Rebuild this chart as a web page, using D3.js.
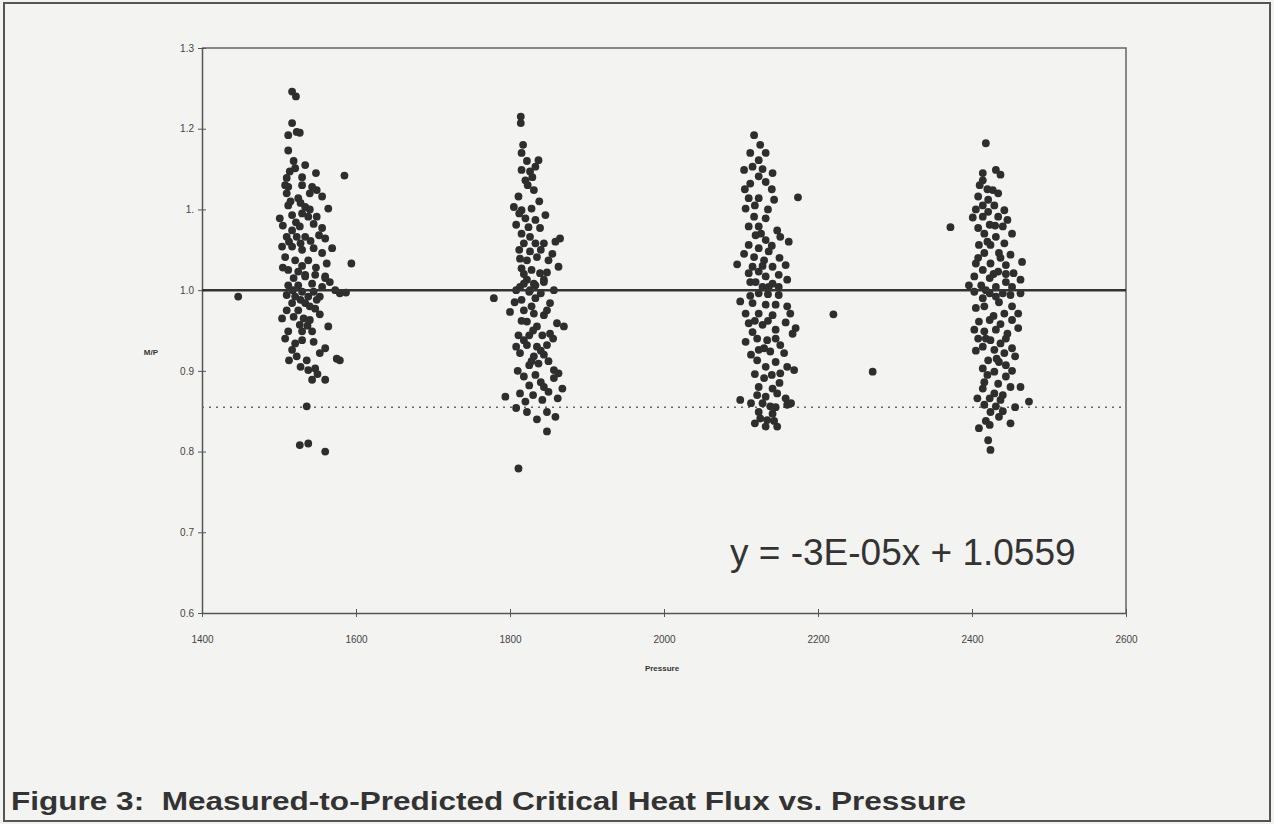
<!DOCTYPE html>
<html>
<head>
<meta charset="utf-8">
<script src="https://cdn.jsdelivr.net/npm/d3@7"></script>
<style>
  html, body { margin: 0; padding: 0; background: #f3f3f1; }
  svg { display: block; }
</style>
</head>
<body>
<div id="chart"></div>
<script>
// ********** data **********
// each point: [pressure, measured/predicted]
const run1500 = [
  [1517,1.246],[1522,1.240],[1517,1.207],[1523,1.196],[1512,1.192],[1527,1.195],[1512,1.173],
  [1534,1.155],[1548,1.145],[1585,1.142],[1514,1.147],[1510,1.139],[1521,1.151],[1512,1.128],
  [1530,1.130],[1543,1.128],[1549,1.124],[1510,1.120],[1556,1.116],[1525,1.114],[1564,1.101],
  [1512,1.105],[1501,1.089],[1534,1.103],[1530,1.095],[1538,1.091],[1549,1.091],[1517,1.093],
  [1556,1.077],[1517,1.074],[1527,1.079],[1510,1.066],[1523,1.066],[1534,1.066],[1560,1.064],
  [1569,1.052],[1504,1.054],[1517,1.054],[1530,1.050],[1545,1.052],[1556,1.046],[1508,1.041],
  [1521,1.037],[1538,1.037],[1562,1.033],[1594,1.033],[1512,1.025],[1525,1.023],[1534,1.017],
  [1547,1.019],[1560,1.017],[1519,1.015],[1534,1.019],[1560,1.015],[1512,1.006],[1525,1.006],
  [1543,1.008],[1556,1.004],[1579,0.996],[1573,1.000],[1510,0.994],[1521,0.992],[1538,0.992],
  [1549,0.988],[1517,0.984],[1534,0.984],[1547,0.977],[1525,0.975],[1504,0.965],[1519,0.967],
  [1532,0.965],[1540,0.963],[1564,0.955],[1512,0.949],[1530,0.949],[1543,0.949],[1521,0.934],
  [1560,0.928],[1553,0.922],[1517,0.926],[1523,0.918],[1579,0.913],[1536,0.913],[1547,0.903],
  [1538,0.901],[1543,0.889],[1560,0.889],[1536,0.856],[1527,0.808],[1538,0.810],[1560,0.800],
  [1447,0.992],
  [1515,1.110],[1528,1.108],[1540,1.100],[1505,1.080],[1522,1.084],[1545,1.082],[1513,1.060],
  [1528,1.058],[1541,1.061],[1552,1.068],[1505,1.028],[1530,1.030],[1548,1.028],[1518,1.000],
  [1530,0.998],[1545,0.998],[1553,0.992],[1528,0.988],[1540,0.980],[1510,0.975],[1553,0.970],
  [1527,0.957],[1537,0.956],[1508,0.940],[1530,0.938],[1545,0.936],[1513,0.913],[1528,0.905],
  [1550,0.896],[1519,1.160],[1530,1.140],[1508,1.130],[1540,1.120],[1566,1.010],[1587,0.997],
  [1575,0.915]
];
const run1800 = [
  [1814,1.215],[1814,1.207],[1815,1.170],[1837,1.161],[1833,1.153],[1815,1.149],[1826,1.147],
  [1820,1.136],[1823,1.130],[1831,1.124],[1811,1.116],[1805,1.103],[1815,1.099],[1828,1.101],
  [1846,1.093],[1820,1.089],[1833,1.087],[1808,1.081],[1839,1.077],[1815,1.070],[1826,1.066],
  [1865,1.064],[1859,1.060],[1818,1.058],[1833,1.058],[1844,1.058],[1826,1.048],[1813,1.039],
  [1822,1.037],[1835,1.041],[1850,1.037],[1863,1.029],[1815,1.027],[1828,1.025],[1839,1.021],
  [1822,1.013],[1844,1.013],[1833,1.006],[1813,1.004],[1818,1.008],[1831,1.008],[1844,1.010],
  [1808,1.000],[1825,0.998],[1857,1.000],[1779,0.990],[1815,0.988],[1833,0.990],[1852,0.984],
  [1800,0.973],[1818,0.975],[1831,0.971],[1844,0.969],[1822,0.961],[1861,0.959],[1870,0.955],
  [1835,0.955],[1811,0.944],[1825,0.944],[1842,0.944],[1852,0.946],[1808,0.930],[1822,0.932],
  [1835,0.930],[1848,0.932],[1813,0.922],[1831,0.918],[1844,0.920],[1825,0.907],[1837,0.909],
  [1857,0.901],[1863,0.897],[1818,0.893],[1833,0.895],[1857,0.891],[1825,0.882],[1844,0.880],
  [1868,0.878],[1850,0.874],[1794,0.868],[1813,0.872],[1842,0.864],[1808,0.854],[1822,0.849],
  [1848,0.849],[1859,0.843],[1848,0.825],[1811,0.779],
  [1817,1.180],[1822,1.160],[1829,1.140],[1812,1.095],[1838,1.110],[1824,1.078],[1812,1.050],
  [1840,1.050],[1855,1.045],[1818,1.020],[1848,1.022],[1826,1.000],[1840,0.996],[1806,0.985],
  [1828,0.980],[1848,0.975],[1815,0.962],[1830,0.950],[1856,0.940],[1818,0.938],[1840,0.925],
  [1828,0.912],[1850,0.912],[1810,0.900],[1840,0.886],[1830,0.870],[1820,0.862],[1862,0.866],
  [1835,0.840]
];
const run2100 = [
  [2117,1.192],[2112,1.170],[2132,1.170],[2123,1.161],[2104,1.149],[2115,1.153],[2141,1.145],
  [2123,1.141],[2112,1.132],[2132,1.134],[2174,1.115],[2110,1.114],[2123,1.114],[2143,1.112],
  [2106,1.101],[2117,1.091],[2132,1.089],[2110,1.079],[2123,1.079],[2147,1.074],[2119,1.068],
  [2151,1.066],[2132,1.062],[2162,1.060],[2110,1.056],[2123,1.052],[2136,1.048],[2117,1.041],
  [2130,1.037],[2095,1.032],[2158,1.031],[2115,1.029],[2141,1.029],[2123,1.023],[2110,1.021],
  [2149,1.019],[2132,1.017],[2160,1.013],[2119,1.010],[2141,1.008],[2128,1.004],[2149,1.004],
  [2136,1.004],[2123,0.996],[2149,0.994],[2099,0.986],[2115,0.984],[2132,0.982],[2160,0.980],
  [2106,0.971],[2123,0.971],[2141,0.969],[2164,0.971],[2110,0.959],[2128,0.957],[2145,0.951],
  [2171,0.953],[2167,0.946],[2106,0.936],[2121,0.940],[2134,0.938],[2151,0.932],[2123,0.926],
  [2138,0.924],[2156,0.922],[2121,0.913],[2145,0.911],[2160,0.905],[2169,0.901],[2151,0.897],
  [2130,0.891],[2123,0.880],[2141,0.878],[2147,0.872],[2121,0.870],[2132,0.868],[2099,0.864],
  [2158,0.866],[2128,0.860],[2160,0.858],[2138,0.856],[2123,0.849],[2141,0.847],[2125,0.841],
  [2134,0.839],[2132,0.831],[2147,0.831],[2220,0.970],[2271,0.899],
  [2125,1.180],[2128,1.150],[2105,1.125],[2140,1.125],[2118,1.105],[2135,1.100],[2126,1.070],
  [2140,1.055],[2104,1.045],[2128,1.030],[2150,1.040],[2112,1.010],[2135,0.995],[2112,0.993],
  [2145,0.982],[2118,0.962],[2135,0.962],[2158,0.960],[2115,0.948],[2130,0.928],[2145,0.940],
  [2113,0.920],[2132,0.905],[2140,0.895],[2118,0.896],[2150,0.885],[2113,0.860],[2145,0.855],
  [2118,0.835],[2143,0.838],[2165,0.860]
];
const run2400 = [
  [2418,1.182],[2414,1.145],[2431,1.149],[2437,1.143],[2414,1.136],[2427,1.124],[2408,1.116],
  [2421,1.112],[2414,1.105],[2429,1.105],[2442,1.099],[2421,1.097],[2401,1.090],[2414,1.091],
  [2434,1.091],[2446,1.087],[2372,1.078],[2408,1.077],[2423,1.081],[2440,1.079],[2416,1.070],
  [2431,1.066],[2409,1.056],[2424,1.056],[2442,1.058],[2416,1.046],[2435,1.046],[2450,1.044],
  [2465,1.035],[2405,1.033],[2424,1.033],[2444,1.031],[2414,1.025],[2434,1.023],[2454,1.021],
  [2403,1.017],[2423,1.015],[2463,1.013],[2444,1.010],[2396,1.006],[2412,1.006],[2431,1.004],
  [2452,1.004],[2403,0.998],[2423,0.996],[2440,0.996],[2463,0.996],[2414,0.990],[2431,0.992],
  [2450,0.994],[2416,0.980],[2442,0.971],[2460,0.971],[2452,0.963],[2409,0.961],[2423,0.963],
  [2460,0.953],[2403,0.951],[2416,0.949],[2431,0.951],[2446,0.946],[2408,0.940],[2424,0.938],
  [2437,0.934],[2414,0.930],[2452,0.928],[2429,0.926],[2442,0.922],[2456,0.918],[2421,0.913],
  [2435,0.911],[2444,0.907],[2414,0.903],[2429,0.899],[2444,0.893],[2416,0.886],[2434,0.884],
  [2450,0.880],[2463,0.880],[2414,0.878],[2429,0.872],[2423,0.866],[2437,0.864],[2474,0.862],
  [2416,0.858],[2431,0.856],[2424,0.849],[2435,0.843],[2450,0.835],[2409,0.829],[2423,0.833],
  [2421,0.814],[2424,0.802],
  [2410,1.130],[2420,1.125],[2434,1.120],[2405,1.100],[2430,1.080],[2452,1.070],[2420,1.060],
  [2437,1.040],[2408,1.040],[2428,1.020],[2444,1.020],[2418,1.000],[2435,0.985],[2452,0.980],
  [2405,0.978],[2428,0.968],[2437,0.958],[2418,0.940],[2444,0.940],[2405,0.925],[2432,0.915],
  [2420,0.895],[2452,0.900],[2440,0.870],[2407,0.866],[2440,0.850],[2418,0.838],[2456,0.855]
];

// axis ticks
const xTicks = [1400, 1600, 1800, 2000, 2200, 2400, 2600];
const yTicks = [0.6, 0.7, 0.8, 0.9, 1.0, 1.1, 1.2, 1.3];
const yTickLabels = ['0.6', '0.7', '0.8', '0.9', '1.0', '1.', '1.2', '1.3'];
// reference line and lower limit
const unityLine = 1.0;
const limitLine = 0.855;
const trendText = 'y = -3E-05x + 1.0559';
const captionText = 'Figure 3:  Measured-to-Predicted Critical Heat Flux vs. Pressure';

// ********** drawing **********
const W = 1274, H = 824;
const svg = d3.select('#chart').append('svg')
  .attr('width', W)
  .attr('height', H);

svg.append('rect')
  .attr('width', W).attr('height', H)
  .attr('fill', '#f3f3f1');

// outer figure frame
svg.append('rect')
  .attr('x', 4).attr('y', 3)
  .attr('width', 1266).attr('height', 818)
  .attr('fill', 'none')
  .attr('stroke', '#555')
  .attr('stroke-width', 2);

const x = d3.scaleLinear().domain([1400, 2600]).range([202, 1126]);
const y = d3.scaleLinear().domain([0.6, 1.3]).range([613, 48]);

const plot = svg.append('g');

// top and right border of the plot area
plot.append('path')
  .attr('d', `M${x(1400)},${y(1.3)}H${x(2600)}V${y(0.6)}`)
  .attr('fill', 'none')
  .attr('stroke', '#666')
  .attr('stroke-width', 1.5);

// axes with small cross ticks
const xAxis = d3.axisBottom(x).tickValues(xTicks).tickSizeInner(4).tickSizeOuter(0).tickFormat(d3.format('d'));
const gx = plot.append('g')
  .attr('transform', `translate(0,${y(0.6)})`)
  .call(xAxis);
gx.selectAll('line').attr('y1', -4).attr('stroke', '#555');
gx.select('.domain').attr('stroke', '#555').attr('stroke-width', 1.5);
gx.selectAll('text')
  .attr('y', 23)
  .attr('font-family', 'Liberation Sans, Arial, sans-serif')
  .attr('font-size', 10)
  .attr('fill', '#444');

const yAxis = d3.axisLeft(y).tickValues(yTicks).tickSizeInner(4).tickSizeOuter(0)
  .tickFormat((d, i) => yTickLabels[i]);
const gy = plot.append('g')
  .attr('transform', `translate(${x(1400)},0)`)
  .call(yAxis);
gy.selectAll('line').attr('x1', 4).attr('stroke', '#555');
gy.select('.domain').attr('stroke', '#555').attr('stroke-width', 1.5);
gy.selectAll('text')
  .attr('x', -8)
  .attr('font-family', 'Liberation Sans, Arial, sans-serif')
  .attr('font-size', 10)
  .attr('fill', '#444');

// axis titles
plot.append('text')
  .attr('x', 158).attr('y', 355)
  .attr('text-anchor', 'end')
  .attr('font-family', 'Liberation Sans, Arial, sans-serif')
  .attr('font-size', 8)
  .attr('font-weight', 700)
  .attr('fill', '#333')
  .text('M/P');
plot.append('text')
  .attr('x', 662).attr('y', 671)
  .attr('text-anchor', 'middle')
  .attr('font-family', 'Liberation Sans, Arial, sans-serif')
  .attr('font-size', 8)
  .attr('font-weight', 700)
  .attr('fill', '#333')
  .text('Pressure');

// dotted lower limit
plot.append('line')
  .attr('x1', x(1400)).attr('x2', x(2600))
  .attr('y1', y(limitLine)).attr('y2', y(limitLine))
  .attr('stroke', '#666')
  .attr('stroke-width', 1.5)
  .attr('stroke-dasharray', '2,5');

// data points
const allRuns = [run1500, run1800, run2100, run2400];
plot.append('g').selectAll('g')
  .data(allRuns)
  .join('g')
  .selectAll('circle')
  .data(d => d)
  .join('circle')
  .attr('cx', d => x(d[0]))
  .attr('cy', d => y(d[1]))
  .attr('r', 3.9)
  .attr('fill', '#2e2e2e');

// unity line
plot.append('line')
  .attr('x1', x(1400)).attr('x2', x(2600))
  .attr('y1', y(unityLine)).attr('y2', y(unityLine))
  .attr('stroke', '#333')
  .attr('stroke-width', 2.5);

// trend line equation
plot.append('text')
  .attr('x', 730).attr('y', 565)
  .attr('font-family', 'Liberation Sans, Arial, sans-serif')
  .attr('font-size', 37)
  .attr('fill', '#333')
  .text(trendText);

// caption
svg.append('text')
  .attr('x', 11).attr('y', 810)
  .attr('font-family', 'Liberation Sans, Arial, sans-serif')
  .attr('font-size', 26)
  .attr('font-weight', 700)
  .attr('fill', '#333')
  .attr('textLength', 955)
  .attr('lengthAdjust', 'spacingAndGlyphs')
  .style('white-space', 'pre')
  .text(captionText);
</script>
</body>
</html>
